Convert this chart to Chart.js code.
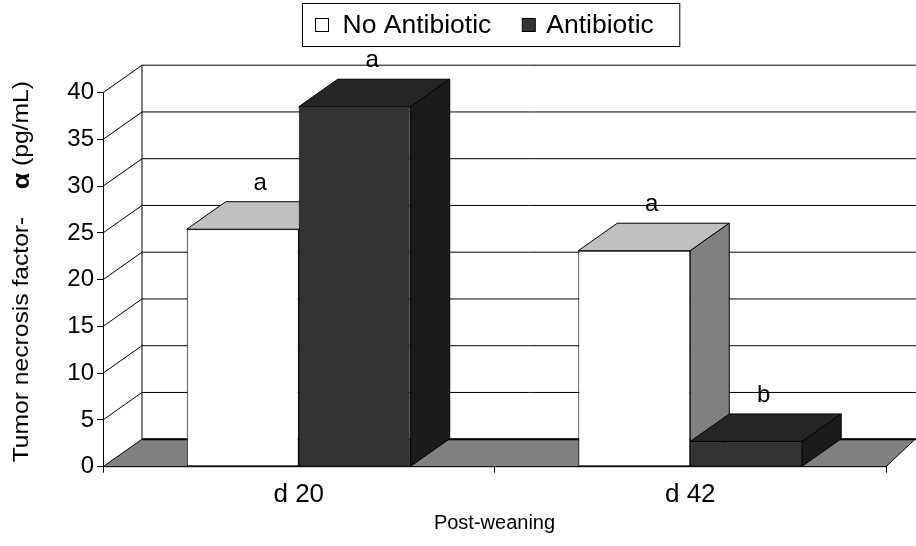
<!DOCTYPE html>
<html>
<head>
<meta charset="utf-8">
<script src="https://cdn.jsdelivr.net/npm/chart.js@4.4.1/dist/chart.umd.min.js"></script>
<style>
  html, body { margin: 0; padding: 0; background: #fff; }
</style>
</head>
<body>
<canvas id="tnfChart" width="916" height="546"></canvas>
<script>
// TNF-alpha by day post-weaning
const days = ['d 20', 'd 42'];
const noAntibiotic = [25.4, 23.1];
const antibiotic = [38.5, 2.7];
const noAntibioticLetters = ['a', 'a'];
const antibioticLetters = ['a', 'b'];

const FONT = "'Liberation Sans', Arial, sans-serif";
// depth of the fake 3D box
const DX = 39, DY = -27.5;
const FLOOR_DX = 29;
const faces = [
  { top: '#c0c0c0', side: '#808080' },
  { top: '#252525', side: '#1b1b1b' }
];

function poly(ctx, pts, fill) {
  ctx.beginPath();
  ctx.moveTo(pts[0][0], pts[0][1]);
  for (let i = 1; i < pts.length; i++) ctx.lineTo(pts[i][0], pts[i][1]);
  ctx.closePath();
  if (fill) { ctx.fillStyle = fill; ctx.fill(); }
  ctx.stroke();
}

// text drawn a little wider than the font's natural width
function wideText(ctx, text, x, y, sx) {
  ctx.save();
  ctx.translate(x, y);
  ctx.scale(sx, 1);
  ctx.fillText(text, 0, 0);
  ctx.restore();
}

const box3d = {
  id: 'box3d',
  beforeDatasetsDraw(chart) {
    const { ctx, chartArea: a, scales: { y } } = chart;
    ctx.save();
    ctx.strokeStyle = '#000';
    ctx.lineWidth = 1;

    // side wall diagonals and back wall gridlines
    y.ticks.forEach(t => {
      if (t.value === 0) return;
      const py = y.getPixelForValue(t.value);
      ctx.beginPath();
      ctx.moveTo(a.left, py);
      ctx.lineTo(a.left + DX, py + DY);
      ctx.lineTo(chart.width + 2, py + DY);
      ctx.stroke();
    });
    ctx.beginPath();
    ctx.moveTo(a.left + DX, a.top + DY);
    ctx.lineTo(a.left + DX, a.bottom + DY);
    ctx.stroke();

    // floor
    poly(ctx, [
      [a.left, a.bottom], [a.right, a.bottom],
      [a.right + FLOOR_DX, a.bottom + DY], [a.left + DX, a.bottom + DY]
    ], '#808080');
    ctx.lineWidth = 2;
    ctx.beginPath();
    ctx.moveTo(a.left + DX, a.bottom + DY);
    ctx.lineTo(chart.width + 2, a.bottom + DY);
    ctx.stroke();

    // tops and right sides, left to right
    ctx.lineWidth = 1;
    days.forEach((_, i) => {
      chart.data.datasets.forEach((ds, d) => {
        const bar = chart.getDatasetMeta(d).data[i];
        const { x, y: top, base, width } = bar.getProps(['x', 'y', 'base', 'width'], true);
        const l = x - width / 2, r = x + width / 2;
        poly(ctx, [[l, top], [r, top], [r + DX, top + DY], [l + DX, top + DY]], faces[d].top);
        poly(ctx, [[r, top], [r + DX, top + DY], [r + DX, base + DY], [r, base]], faces[d].side);
      });
    });
    ctx.restore();
  },
  afterDatasetsDraw(chart) {
    const { ctx } = chart;
    ctx.save();
    ctx.fillStyle = '#000';
    ctx.font = '24px ' + FONT;
    ctx.textAlign = 'center';
    ctx.textBaseline = 'alphabetic';
    chart.data.datasets.forEach((ds, d) => {
      chart.getDatasetMeta(d).data.forEach((bar, i) => {
        ctx.fillText(ds.letters[i], bar.x + DX / 2 - 2, bar.y + DY - 12);
      });
    });
    ctx.restore();
  },
  afterDraw(chart) {
    const { ctx, chartArea: a } = chart;
    ctx.save();
    ctx.fillStyle = '#000';
    ctx.strokeStyle = '#000';
    ctx.lineWidth = 1;

    // legend
    const sx = 1.06;
    ctx.font = '25px ' + FONT;
    ctx.textBaseline = 'middle';
    ctx.textAlign = 'left';
    const sq = 13;
    const items = chart.data.datasets.map(ds => ({ label: ds.label, color: ds.backgroundColor, w: ctx.measureText(ds.label).width * sx }));
    const total = 13 + sq + 14 + items[0].w + 31 + sq + 11 + items[1].w + 26;
    const bx = Math.round((a.left + a.right) / 2 - 4 - total / 2) + 0.5;
    const by = 3.5, bh = 43;
    ctx.strokeRect(bx, by, total, bh);
    let cx = bx + 13;
    const cy = by + bh / 2;
    items.forEach((it, k) => {
      ctx.fillStyle = it.color;
      ctx.fillRect(cx, cy - sq / 2, sq, sq);
      ctx.strokeRect(cx, cy - sq / 2, sq, sq);
      cx += sq + (k === 0 ? 14 : 11);
      ctx.fillStyle = '#000';
      wideText(ctx, it.label, cx, cy + 1, sx);
      cx += it.w + 31;
    });

    // y axis title with a bold alpha
    const tx = 1.12;
    const parts = [
      { t: 'Tumor necrosis factor-', f: '22px ' + FONT },
      { t: '    ', f: '22px ' + FONT },
      { t: '\u03b1', f: 'bold 24px ' + FONT },
      { t: ' (pg/mL)', f: '22px ' + FONT }
    ];
    let tw = 0;
    parts.forEach(p => { ctx.font = p.f; p.w = ctx.measureText(p.t).width; tw += p.w; });
    ctx.translate(22, (a.top + a.bottom) / 2 - 8);
    ctx.rotate(-Math.PI / 2);
    ctx.scale(tx, 1);
    ctx.textBaseline = 'middle';
    let px = -tw / 2;
    parts.forEach(p => { ctx.font = p.f; ctx.fillText(p.t, px, 0); px += p.w; });
    ctx.restore();
  }
};

new Chart(document.getElementById('tnfChart'), {
  type: 'bar',
  data: {
    labels: days,
    datasets: [
      { label: 'No Antibiotic', data: noAntibiotic, letters: noAntibioticLetters,
        backgroundColor: '#ffffff', borderColor: '#000', borderWidth: 1, borderSkipped: false },
      { label: 'Antibiotic', data: antibiotic, letters: antibioticLetters,
        backgroundColor: '#333333', borderColor: '#000', borderWidth: 1, borderSkipped: false }
    ]
  },
  options: {
    responsive: false,
    animation: false,
    events: [],
    layout: { padding: { top: 92.7, right: 30, left: 0, bottom: 0 } },
    datasets: { bar: { barPercentage: 1, categoryPercentage: 0.572 } },
    scales: {
      x: {
        grid: { drawOnChartArea: false, color: '#000', tickLength: 6, offset: true },
        border: { color: '#000' },
        ticks: { color: '#000', font: { family: FONT, size: 26 }, padding: 7 },
        title: { display: true, text: 'Post-weaning', color: '#000',
          font: { family: FONT, size: 20 }, padding: { top: 0, bottom: 11 } },
        afterFit: s => { s.height = 79.3; }
      },
      y: {
        min: 0, max: 40,
        grid: { drawOnChartArea: false, color: '#000', tickLength: 6 },
        border: { color: '#000' },
        ticks: { stepSize: 5, color: '#000', font: { family: FONT, size: 24 }, padding: 3 },
        afterFit: s => { s.width = 103; }
      }
    },
    plugins: { legend: { display: false }, tooltip: { enabled: false } }
  },
  plugins: [box3d]
});
</script>
</body>
</html>
